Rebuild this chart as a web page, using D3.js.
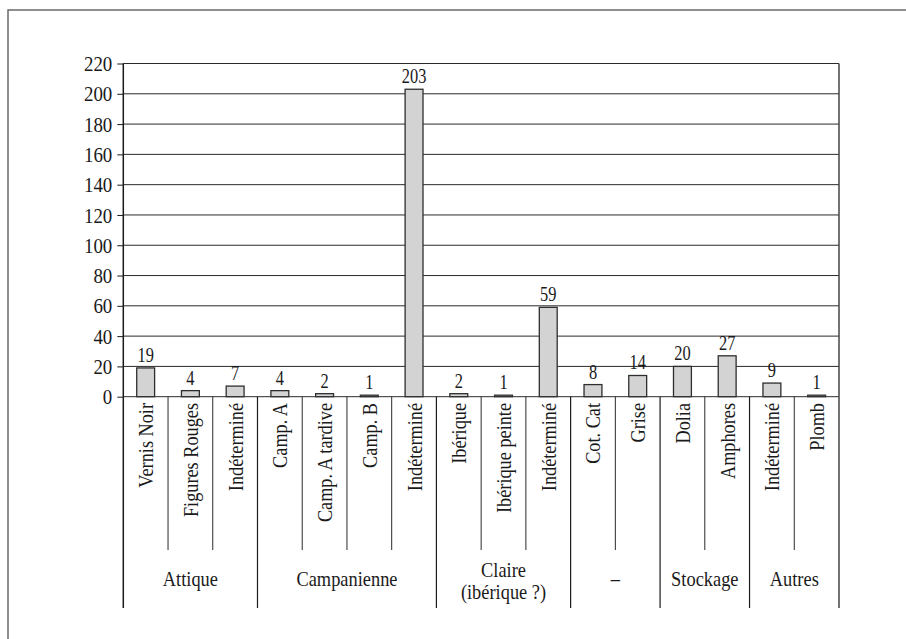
<!DOCTYPE html>
<html>
<head>
<meta charset="utf-8">
<style>
    body, html {
        margin: 0;
        padding: 0;
        background: #fff;
        overflow: hidden;
    }
    text {
        font-family: "Liberation Serif", "Times New Roman", serif;
        fill: #1a1a1a;
    }
</style>
</head>
<body>
<svg width="906" height="639"></svg>
<script src="https://d3js.org/d3.v7.min.js"></script>
<script>
    // data
    var categories = ["Vernis Noir", "Figures Rouges", "Indéterminé",
        "Camp. A", "Camp. A tardive", "Camp. B", "Indéterminé",
        "Ibérique", "Ibérique peinte", "Indéterminé",
        "Cot. Cat", "Grise",
        "Dolia", "Amphores",
        "Indéterminé", "Plomb"];
    var values = [19, 4, 7, 4, 2, 1, 203, 2, 1, 59, 8, 14, 20, 27, 9, 1];
    var groups = [["Attique"], ["Campanienne"], ["Claire", "(ibérique ?)"], ["–"], ["Stockage"], ["Autres"]];
    var groupSizes = [3, 4, 3, 2, 2, 2];
    var yTicks = [0, 20, 40, 60, 80, 100, 120, 140, 160, 180, 200, 220];

    var svg = d3.select("svg");

    var plotLeft = 123.3, plotRight = 839, plotTop = 63.5, base = 396.7;
    var catBottom = 550, groupBottom = 608;

    // outer frame
    svg.append("rect")
        .attr("x", 8).attr("y", 10)
        .attr("width", 920).attr("height", 660)
        .attr("fill", "none")
        .attr("stroke", "#6a6a6a")
        .attr("stroke-width", 1.5);

    var y = d3.scaleLinear().domain([0, 220]).range([base, plotTop]);
    var idx = d3.range(categories.length);
    var xCell = d3.scaleBand().domain(idx).range([plotLeft, plotRight]).padding(0);
    var xBar = d3.scaleBand().domain(idx).range([plotLeft, plotRight])
        .paddingInner(0.6).paddingOuter(0.3);

    // gridlines
    svg.append("g")
        .selectAll("line")
        .data(yTicks)
        .enter().append("line")
        .attr("x1", plotLeft).attr("x2", plotRight)
        .attr("y1", function (d) { return y(d); })
        .attr("y2", function (d) { return y(d); })
        .attr("stroke", "#2a2a2a")
        .attr("stroke-width", 1);

    // y axis
    var yAxis = svg.append("g")
        .attr("transform", "translate(" + plotLeft + ",0)")
        .call(d3.axisLeft(y).tickValues(yTicks).tickSize(6).tickPadding(5));
    yAxis.select(".domain").remove();
    yAxis.selectAll(".tick line").attr("stroke", "#1a1a1a");
    yAxis.selectAll(".tick text")
        .attr("font-size", 21)
        .attr("font-family", "Liberation Serif")
        .attr("fill", "#1a1a1a")
        .attr("dy", "0.34em")
        .attr("transform", "scale(0.9,1)")
        .attr("x", -11 / 0.9);

    // left and right borders
    svg.append("line")
        .attr("x1", plotLeft).attr("x2", plotLeft)
        .attr("y1", plotTop).attr("y2", groupBottom)
        .attr("stroke", "#1a1a1a").attr("stroke-width", 1.5);
    svg.append("line")
        .attr("x1", plotRight).attr("x2", plotRight)
        .attr("y1", plotTop).attr("y2", groupBottom)
        .attr("stroke", "#444").attr("stroke-width", 1.5);

    // bars
    svg.append("g")
        .selectAll("rect")
        .data(values)
        .enter().append("rect")
        .attr("x", function (d, i) { return xBar(i); })
        .attr("width", xBar.bandwidth())
        .attr("y", function (d) { return y(d); })
        .attr("height", function (d) { return base - y(d); })
        .attr("fill", "#d3d3d3")
        .attr("stroke", "#2e2e2e")
        .attr("stroke-width", 1.3);

    // value labels
    svg.append("g")
        .selectAll("text")
        .data(values)
        .enter().append("text")
        .attr("transform", function (d, i) {
            return "translate(" + (xCell(i) + xCell.bandwidth() / 2) + "," + (y(d) - 6) + ") scale(0.82,1)";
        })
        .attr("text-anchor", "middle")
        .attr("font-size", 20)
        .text(function (d) { return d; });

    // group boundaries
    var bounds = [0];
    groupSizes.forEach(function (s, i) { bounds.push(bounds[i] + s); });

    // category separators
    svg.append("g")
        .selectAll("line")
        .data(d3.range(1, categories.length).filter(function (k) { return bounds.indexOf(k) < 0; }))
        .enter().append("line")
        .attr("x1", function (k) { return xCell(k); })
        .attr("x2", function (k) { return xCell(k); })
        .attr("y1", base).attr("y2", catBottom)
        .attr("stroke", "#2a2a2a").attr("stroke-width", 1);

    svg.append("g")
        .selectAll("line")
        .data(bounds.slice(1, -1))
        .enter().append("line")
        .attr("x1", function (k) { return xCell(k); })
        .attr("x2", function (k) { return xCell(k); })
        .attr("y1", base).attr("y2", groupBottom)
        .attr("stroke", "#1a1a1a").attr("stroke-width", 1.2);

    // rotated category labels
    svg.append("g")
        .selectAll("text")
        .data(categories)
        .enter().append("text")
        .attr("transform", function (d, i) {
            return "translate(" + (xCell(i) + xCell.bandwidth() / 2) + ",403) rotate(-90) scale(0.83,1)";
        })
        .attr("text-anchor", "end")
        .attr("dy", "0.34em")
        .attr("font-size", 22)
        .text(function (d) { return d; });

    // group labels
    var gl = svg.append("g")
        .selectAll("g")
        .data(groups)
        .enter().append("g")
        .attr("transform", function (d, i) {
            var cx = (xCell(bounds[i]) + (bounds[i + 1] < categories.length ? xCell(bounds[i + 1]) : plotRight)) / 2;
            return "translate(" + cx + ",0)";
        });
    gl.selectAll("text")
        .data(function (d) { return d.map(function (t, j) { return { t: t, j: j, n: d.length }; }); })
        .enter().append("text")
        .attr("transform", function (d) {
            var yy = d.n === 1 ? 586 : 577 + d.j * 22;
            return "translate(0," + yy + ") scale(0.92,1)";
        })
        .attr("text-anchor", "middle")
        .attr("font-size", 20)
        .text(function (d) { return d.t; });
</script>
</body>
</html>
